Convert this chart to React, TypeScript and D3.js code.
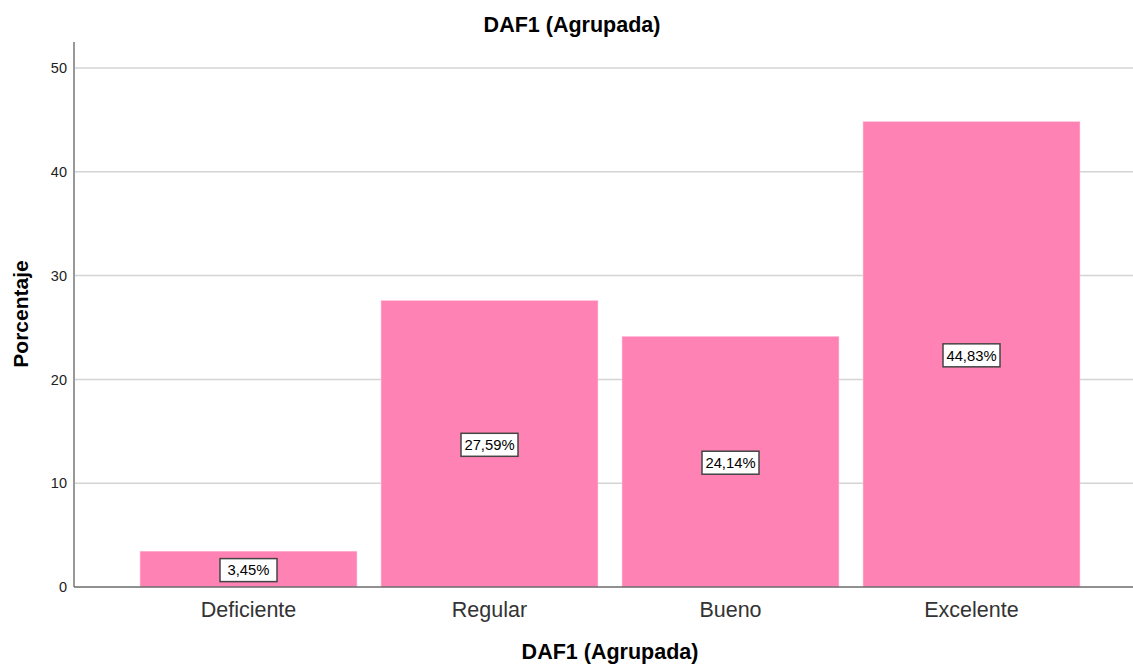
import React from 'react';
import * as d3 from 'd3';

const categories = ['Deficiente', 'Regular', 'Bueno', 'Excelente'];
const values = [3.45, 27.59, 24.14, 44.83];
const yTicks = [0, 10, 20, 30, 40, 50];

const WIDTH = 1133;
const HEIGHT = 665;
const FONT = 'Liberation Sans, Arial, sans-serif';
const BAR_COLOR = '#fe83b4';

export default function App() {
  const axisX = 74;
  const plotRight = 1133;
  const plotTop = 42;
  const plotBottom = 587;

  const x = d3.scaleBand<string>()
    .domain(categories)
    .range([128, 1092])
    .paddingInner(0.1)
    .paddingOuter(0.05);

  const y = d3.scaleLinear()
    .domain([0, 50])
    .range([plotBottom, 68]);

  const fmt = (v: number) => v.toFixed(2).replace('.', ',') + '%';

  return (
    <div style={{ position: 'fixed', left: 0, top: 0, width: WIDTH, height: HEIGHT, overflow: 'hidden' }}>
      <svg width={WIDTH} height={HEIGHT} style={{ display: 'block', background: '#fff' }} fontFamily={FONT}>
        {/* title */}
        <text x={572} y={32} textAnchor="middle" fontSize={21.5} fontWeight="bold" fill="#000">
          DAF1 (Agrupada)
        </text>

        {/* gridlines */}
        {yTicks.filter(t => t > 0).map(t => (
          <line key={t} x1={axisX} x2={plotRight} y1={y(t)} y2={y(t)} stroke="#d4d4d4" strokeWidth={1.5} />
        ))}

        {/* y tick labels */}
        {yTicks.map(t => (
          <text key={t} x={67} y={y(t)} dy="0.36em" textAnchor="end" fontSize={14.5} fill="#222">
            {t}
          </text>
        ))}

        {/* bars */}
        {categories.map((c, i) => (
          <rect key={c} x={x(c)} y={y(values[i])} width={x.bandwidth()} height={plotBottom - y(values[i])}
            fill={BAR_COLOR} stroke="#ffc4dc" strokeWidth={0.5} />
        ))}

        {/* axes */}
        <line x1={axisX} x2={axisX} y1={plotTop} y2={plotBottom} stroke="#999" strokeWidth={2} />
        <line x1={axisX} x2={plotRight} y1={plotBottom} y2={plotBottom} stroke="#6b6b6b" strokeWidth={1.5} />

        {/* data labels */}
        {categories.map((c, i) => {
          const cx = (x(c) ?? 0) + x.bandwidth() / 2;
          const cy = y(values[i] / 2) + 1;
          const label = fmt(values[i]);
          const w = 57;
          return (
            <g key={c}>
              <rect x={cx - w / 2} y={cy - 11.5} width={w} height={23} fill="#fff" stroke="#444" strokeWidth={1.5} />
              <text x={cx} y={cy} dy="0.36em" textAnchor="middle" fontSize={14.8} fill="#000">{label}</text>
            </g>
          );
        })}

        {/* x tick labels */}
        {categories.map(c => (
          <text key={c} x={(x(c) ?? 0) + x.bandwidth() / 2} y={617} textAnchor="middle" fontSize={21.5} fill="#333">
            {c}
          </text>
        ))}

        {/* axis titles */}
        <text x={610} y={659} textAnchor="middle" fontSize={21.5} fontWeight="bold" fill="#000">
          DAF1 (Agrupada)
        </text>
        <text transform={`translate(28,314) rotate(-90)`} textAnchor="middle" fontSize={21} fontWeight="bold" fill="#000">
          Porcentaje
        </text>
      </svg>
    </div>
  );
}
